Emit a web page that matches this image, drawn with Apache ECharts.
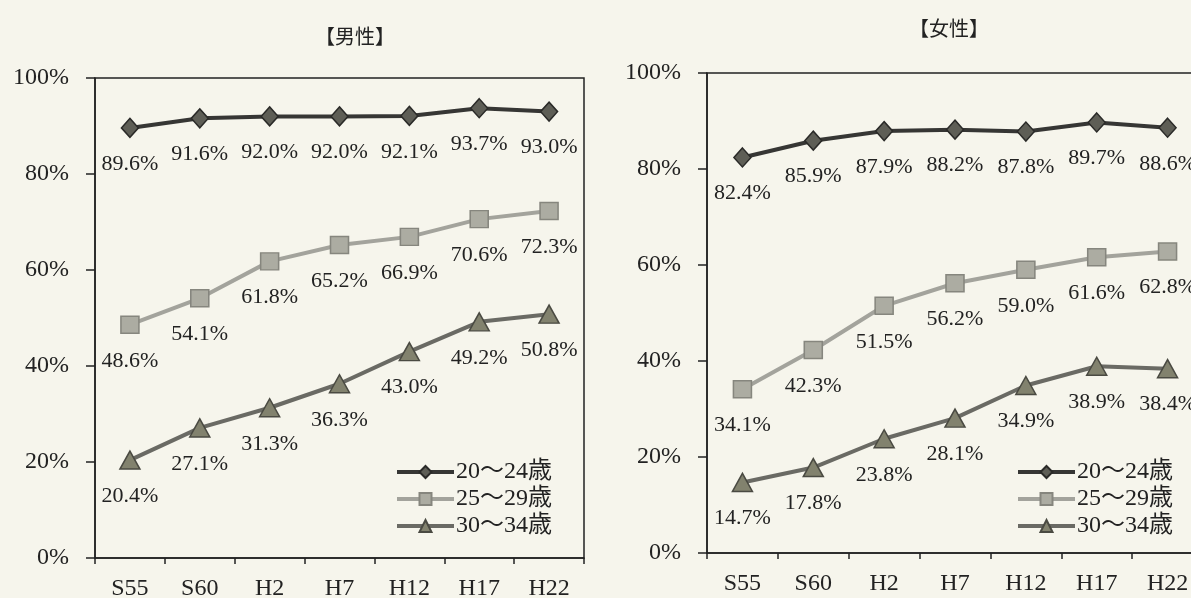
<!DOCTYPE html>
<html>
<head>
<meta charset="utf-8">
<script src="https://cdn.jsdelivr.net/npm/echarts@6/dist/echarts.min.js"></script>
<style>
html,body{margin:0;padding:0;background:#f6f5ec;}
#main{width:1191px;height:598px;}
</style>
</head>
<body>
<div id="main"></div>
<script>
// 年次
var categories = ['S55', 'S60', 'H2', 'H7', 'H12', 'H17', 'H22'];
var seriesNames = ['20～24歳', '25～29歳', '30～34歳'];
var titleMale = '【男性】';
var titleFemale = '【女性】';

// 男性
var male2024 = [89.6, 91.6, 92.0, 92.0, 92.1, 93.7, 93.0];
var male2529 = [48.6, 54.1, 61.8, 65.2, 66.9, 70.6, 72.3];
var male3034 = [20.4, 27.1, 31.3, 36.3, 43.0, 49.2, 50.8];

// 女性
var female2024 = [82.4, 85.9, 87.9, 88.2, 87.8, 89.7, 88.6];
var female2529 = [34.1, 42.3, 51.5, 56.2, 59.0, 61.6, 62.8];
var female3034 = [14.7, 17.8, 23.8, 28.1, 34.9, 38.9, 38.4];

var serif = '"Liberation Serif", "Noto Sans CJK JP", serif';
var ink = '#222';

// 系列ごとの見た目
var looks = [
	{symbol: 'diamond', size: [17, 19], line: '#363634', fill: '#5e5e56', border: '#2a2a28'},
	{symbol: 'rect', size: [18, 17], line: '#a3a39c', fill: '#acaca2', border: '#86867e'},
	{symbol: 'triangle', size: [20, 18], line: '#6a6a64', fill: '#82826e', border: '#4a4a42'}
];

function makeSeries(name, data, idx, look){
	return {
		name: name,
		type: 'line',
		xAxisIndex: idx,
		yAxisIndex: idx,
		data: data,
		symbol: look.symbol,
		symbolSize: look.size,
		lineStyle: {color: look.line, width: 4},
		itemStyle: {color: look.fill, borderColor: look.border, borderWidth: 1.5},
		label: {
			show: true,
			position: 'inside',
			offset: [0, 36],
			fontFamily: serif,
			fontSize: 22,
			color: ink,
			formatter: function(p){ return p.value.toFixed(1) + '%'; }
		},
		emphasis: {disabled: true}
	};
}

function makeXAxis(idx){
	return {
		type: 'category',
		gridIndex: idx,
		data: categories,
		boundaryGap: true,
		axisLine: {lineStyle: {color: ink, width: 1.5}},
		axisTick: {show: true, inside: false, length: 6, lineStyle: {color: ink, width: 1.5}},
		axisLabel: {fontFamily: serif, fontSize: 24, color: ink, margin: 19}
	};
}

function makeYAxis(idx){
	return {
		type: 'value',
		gridIndex: idx,
		min: 0,
		max: 100,
		interval: 20,
		axisLine: {show: true, lineStyle: {color: ink, width: 1.5}},
		axisTick: {show: true, inside: false, length: 9, lineStyle: {color: ink, width: 1.5}},
		axisLabel: {fontFamily: serif, fontSize: 24, color: ink, margin: 26, formatter: '{value}%'},
		splitLine: {show: false}
	};
}

function makeLegend(left){
	return {
		orient: 'vertical',
		left: left,
		top: 460,
		itemWidth: 57,
		itemHeight: 15,
		itemGap: 3,
		padding: 0,
		data: seriesNames,
		lineStyle: {width: 4},
		textStyle: {fontFamily: serif, fontSize: 24, color: ink, padding: [0, 0, 0, -3]}
	};
}

var myChart = echarts.init(document.getElementById('main'));
var option = {
	backgroundColor: '#f6f5ec',
	animation: false,
	title: [
		{text: titleMale, left: 350, top: 21, textAlign: 'center',
			textStyle: {fontFamily: '"Noto Sans CJK JP"', fontSize: 20, fontWeight: 'normal', color: ink}},
		{text: titleFemale, left: 944, top: 13, textAlign: 'center',
			textStyle: {fontFamily: '"Noto Sans CJK JP"', fontSize: 20, fontWeight: 'normal', color: ink}}
	],
	grid: [
		{left: 95, top: 78, width: 489, height: 480, outerBoundsMode: 'none', show: true, borderColor: ink, borderWidth: 1.5, backgroundColor: 'transparent'},
		{left: 707, top: 73, width: 496, height: 480, outerBoundsMode: 'none', show: true, borderColor: ink, borderWidth: 1.5, backgroundColor: 'transparent'}
	],
	xAxis: [makeXAxis(0), makeXAxis(1)],
	yAxis: [makeYAxis(0), makeYAxis(1)],
	legend: [makeLegend(395), makeLegend(1016)],
	series: [
		makeSeries(seriesNames[0], male2024, 0, looks[0]),
		makeSeries(seriesNames[1], male2529, 0, looks[1]),
		makeSeries(seriesNames[2], male3034, 0, looks[2]),
		makeSeries(seriesNames[0], female2024, 1, looks[0]),
		makeSeries(seriesNames[1], female2529, 1, looks[1]),
		makeSeries(seriesNames[2], female3034, 1, looks[2])
	]
};
myChart.setOption(option);
</script>
</body>
</html>
